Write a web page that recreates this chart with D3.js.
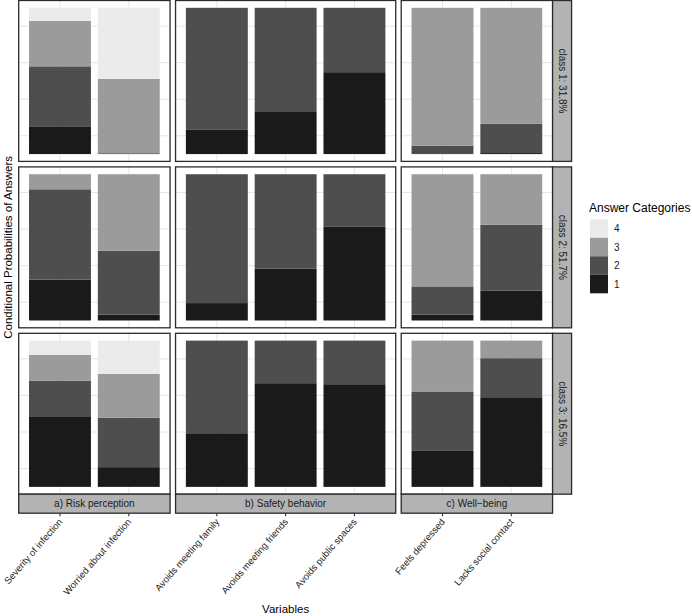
<!DOCTYPE html>
<html>
<head>
<meta charset="utf-8">
<script src="https://cdn.jsdelivr.net/npm/d3@7"></script>
<style>
  html, body { margin: 0; padding: 0; background: #fff; }
  svg { display: block; font-family: "Liberation Sans", Arial, sans-serif; }
</style>
</head>
<body>
<svg id="chart" width="692" height="616"></svg>
<script>
// ---- data ----
const classes = ["class 1: 31.8%", "class 2: 51.7%", "class 3: 16.5%"];
const groups = ["a) Risk perception", "b) Safety behavior", "c) Well\u2212being"];
const variables = ["Severity of infection", "Worried about infection",
  "Avoids meeting family", "Avoids meeting friends", "Avoids public spaces",
  "Feels depressed", "Lacks social contact"];
const variableGroup = [0, 0, 1, 1, 1, 2, 2];
const answerCategories = ["1", "2", "3", "4"];
const legendOrder = ["4", "3", "2", "1"];

// conditional probabilities, one array per class and answer category (in variable order)
const class1_cat1 = [0.190, 0.000, 0.169, 0.293, 0.560, 0.000, 0.007];
const class1_cat2 = [0.410, 0.006, 0.831, 0.707, 0.440, 0.058, 0.200];
const class1_cat3 = [0.310, 0.508, 0.000, 0.000, 0.000, 0.942, 0.793];
const class1_cat4 = [0.090, 0.486, 0.000, 0.000, 0.000, 0.000, 0.000];

const class2_cat1 = [0.279, 0.039, 0.119, 0.354, 0.640, 0.039, 0.203];
const class2_cat2 = [0.618, 0.438, 0.881, 0.646, 0.360, 0.194, 0.452];
const class2_cat3 = [0.103, 0.523, 0.000, 0.000, 0.000, 0.767, 0.345];
const class2_cat4 = [0.000, 0.000, 0.000, 0.000, 0.000, 0.000, 0.000];

const class3_cat1 = [0.483, 0.135, 0.367, 0.709, 0.702, 0.246, 0.613];
const class3_cat2 = [0.244, 0.337, 0.633, 0.291, 0.298, 0.403, 0.267];
const class3_cat3 = [0.175, 0.300, 0.000, 0.000, 0.000, 0.351, 0.120];
const class3_cat4 = [0.098, 0.228, 0.000, 0.000, 0.000, 0.000, 0.000];

const classData = [
  [class1_cat1, class1_cat2, class1_cat3, class1_cat4],
  [class2_cat1, class2_cat2, class2_cat3, class2_cat4],
  [class3_cat1, class3_cat2, class3_cat3, class3_cat4]
];

const yGridValues = [0.125, 0.375, 0.625, 0.875];

// ---- layout ----
const svg = d3.select("#chart");
const unit = 68.8, hSpace = 5.5, vSpace = 5.5;
const left0 = 18.7, top0 = 0.5, panelH = 160.9;
const stripW = 19, stripH = 19;

const color = d3.scaleOrdinal().domain(answerCategories)
  .range(["#1a1a1a", "#4e4e4e", "#9b9b9b", "#ebebeb"]);

// column geometry
const cols = [];
let cx = left0;
groups.forEach((g, gi) => {
  const vars = variables.filter((v, i) => variableGroup[i] === gi);
  const w = unit * (vars.length + 0.2);
  const x = d3.scaleBand().domain(vars).range([cx, cx + w])
    .paddingInner(0.1).paddingOuter(0.15);
  cols.push({ g, vars, x0: cx, w, x });
  cx += w + hSpace;
});
const panelsRight = cols[2].x0 + cols[2].w;

const rows = classes.map((c, ri) => {
  const y0 = top0 + ri * (panelH + vSpace);
  const y = d3.scaleLinear().domain([-0.05, 1.05]).range([y0 + panelH, y0]);
  return { c, y0, y };
});

const stack = d3.stack().keys(answerCategories);

rows.forEach((row, ri) => {
  const table = variables.map((v, vi) => {
    const o = { variable: v, group: variableGroup[vi] };
    answerCategories.forEach((k, ki) => { o[k] = classData[ri][ki][vi]; });
    return o;
  });

  cols.forEach((col, gi) => {
    const gPanel = svg.append("g");
    gPanel.append("rect").attr("x", col.x0).attr("y", row.y0)
      .attr("width", col.w).attr("height", panelH).attr("fill", "#fff");
    gPanel.selectAll(".hg").data(yGridValues).join("line")
      .attr("x1", col.x0).attr("x2", col.x0 + col.w)
      .attr("y1", d => row.y(d)).attr("y2", d => row.y(d))
      .attr("stroke", "#e6e6e6").attr("stroke-width", 1);
    gPanel.selectAll(".vg").data(col.vars).join("line")
      .attr("x1", d => col.x(d) + col.x.bandwidth() / 2)
      .attr("x2", d => col.x(d) + col.x.bandwidth() / 2)
      .attr("y1", row.y0).attr("y2", row.y0 + panelH)
      .attr("stroke", "#e6e6e6").attr("stroke-width", 1);

    const sub = table.filter(d => d.group === gi);
    const series = stack(sub);
    gPanel.selectAll(".s").data(series).join("g")
      .attr("fill", s => color(s.key))
      .selectAll("rect").data(s => s).join("rect")
      .attr("x", d => col.x(d.data.variable))
      .attr("width", col.x.bandwidth())
      .attr("y", d => row.y(d[1]))
      .attr("height", d => Math.max(0, row.y(d[0]) - row.y(d[1])));

    gPanel.append("rect").attr("x", col.x0).attr("y", row.y0)
      .attr("width", col.w).attr("height", panelH)
      .attr("fill", "none").attr("stroke", "#2b2b2b").attr("stroke-width", 1.3);
  });

  const sx = panelsRight;
  svg.append("rect").attr("x", sx).attr("y", row.y0)
    .attr("width", stripW).attr("height", panelH)
    .attr("fill", "#b3b3b3").attr("stroke", "#2b2b2b").attr("stroke-width", 1.3);
  svg.append("text")
    .attr("transform", `translate(${sx + stripW / 2},${row.y0 + panelH / 2}) rotate(90)`)
    .attr("text-anchor", "middle").attr("dominant-baseline", "central")
    .attr("font-size", 10).attr("fill", "#1a1a1a").text(row.c);
});

// bottom strips, ticks, tick labels
const bottom = rows[2].y0 + panelH;
cols.forEach(col => {
  svg.append("rect").attr("x", col.x0).attr("y", bottom)
    .attr("width", col.w).attr("height", stripH)
    .attr("fill", "#b3b3b3").attr("stroke", "#2b2b2b").attr("stroke-width", 1.3);
  svg.append("text").attr("x", col.x0 + col.w / 2).attr("y", bottom + stripH / 2)
    .attr("text-anchor", "middle").attr("dominant-baseline", "central")
    .attr("font-size", 10).attr("fill", "#1a1a1a").text(col.g);

  const axis = d3.axisBottom(col.x).tickSize(3).tickPadding(2);
  const gAxis = svg.append("g")
    .attr("transform", `translate(0,${bottom + stripH})`).call(axis);
  gAxis.select(".domain").remove();
  gAxis.selectAll(".tick line").attr("stroke", "#333").attr("stroke-width", 1.1);
  gAxis.selectAll(".tick text")
    .attr("font-size", 9.5).attr("fill", "#262626")
    .attr("font-family", "Liberation Sans, Arial, sans-serif")
    .attr("text-anchor", "end")
    .attr("dy", null).attr("y", null)
    .attr("transform", "translate(3,9) rotate(-49)");
});

// axis titles
svg.append("text").attr("x", (left0 + panelsRight) / 2).attr("y", 613)
  .attr("text-anchor", "middle").attr("font-size", 11.5).attr("fill", "#000")
  .text("Variables");
svg.append("text")
  .attr("transform", `translate(12,${(top0 + bottom) / 2}) rotate(-90)`)
  .attr("text-anchor", "middle").attr("font-size", 11.5).attr("fill", "#000")
  .text("Conditional Probabilities of Answers");

// legend
const lg = svg.append("g").attr("transform", "translate(589,0)");
lg.append("text").attr("x", 0).attr("y", 212).attr("font-size", 12).attr("fill", "#000")
  .text("Answer Categories");
const keyH = 18.5, keyW = 18, keyY0 = 219.3;
lg.selectAll(".key").data(legendOrder).join("rect")
  .attr("x", 1).attr("y", (d, i) => keyY0 + i * keyH)
  .attr("width", keyW).attr("height", keyH)
  .attr("fill", d => color(d));
lg.selectAll(".lab").data(legendOrder).join("text")
  .attr("x", 25).attr("y", (d, i) => keyY0 + i * keyH + keyH / 2)
  .attr("dominant-baseline", "central").attr("font-size", 10).attr("fill", "#1a1a1a")
  .text(d => d);
</script>
</body>
</html>
